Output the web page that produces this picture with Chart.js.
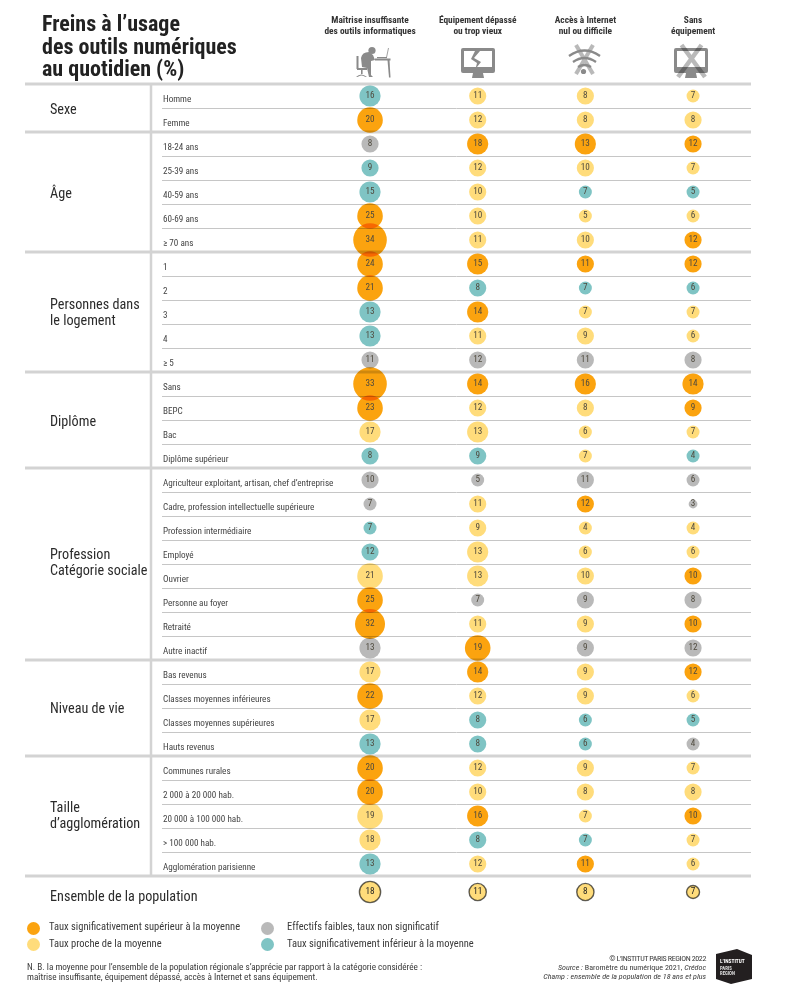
<!DOCTYPE html>
<html lang="fr">
<head>
<meta charset="utf-8">
<title>Freins à l'usage des outils numériques</title>
<script src="https://cdn.jsdelivr.net/npm/chart.js@4/dist/chart.umd.min.js"></script>
<style>
  html, body { margin: 0; padding: 0; background: #fff; }
  #page { position: relative; width: 804px; height: 993px; overflow: hidden;
          font-family: "Roboto Condensed", "Liberation Sans", sans-serif; color: #2b2b2b; }
  #page > * { position: absolute; }
  canvas { left: 0; top: 0; }
  .title { left: 42px; top: 13px; font-size: 22px; line-height: 22.6px; font-weight: bold; color: #222; }
  .group { left: 50px; font-size: 14.2px; line-height: 16px; color: #2b2b2b; }
  .dot { width: 13px; height: 13px; border-radius: 50%; }
  .leg { font-size: 10.5px; line-height: 12px; color: #3a3a3a; white-space: nowrap; }
  .note { left: 27px; top: 962px; font-size: 9.2px; line-height: 10.3px; color: #3a3a3a; white-space: nowrap; }
  .credit { right: 98px; top: 953.5px; text-align: right; font-size: 8.05px; line-height: 9.4px; color: #3a3a3a; white-space: nowrap; }
  .credit span { letter-spacing: -0.4px; }
  .logo { left: 716px; top: 949px; }
  .icon { left: 0; top: 0; }
</style>
</head>
<body>
<div id="page">
  <canvas id="chart" width="804" height="993"></canvas>

  <div class="title">Freins à l’usage<br>des outils numériques<br>au quotidien (%)</div>

  <div class="group" style="top:101px">Sexe</div>
  <div class="group" style="top:185px">Âge</div>
  <div class="group" style="top:296px">Personnes dans<br>le logement</div>
  <div class="group" style="top:413px">Diplôme</div>
  <div class="group" style="top:546px">Profession<br>Catégorie sociale</div>
  <div class="group" style="top:700px">Niveau de vie</div>
  <div class="group" style="top:799px">Taille<br>d’agglomération</div>
  <div class="group" style="top:888px">Ensemble de la population</div>

  <div class="dot" style="left:27px;top:922px;background:#FBA30F"></div>
  <div class="leg" style="left:49px;top:921px">Taux significativement supérieur à la moyenne</div>
  <div class="dot" style="left:27px;top:938px;background:#FFDC7B"></div>
  <div class="leg" style="left:49px;top:938px">Taux proche de la moyenne</div>
  <div class="dot" style="left:261px;top:922px;background:#B9B9B9"></div>
  <div class="leg" style="left:287px;top:921px">Effectifs faibles, taux non significatif</div>
  <div class="dot" style="left:261px;top:938px;background:#7FC4C4"></div>
  <div class="leg" style="left:287px;top:938px">Taux significativement inférieur à la moyenne</div>

  <div class="note">N. B. la moyenne pour l’ensemble de la population régionale s’apprécie par rapport à la catégorie considérée :<br>maîtrise insuffisante, équipement dépassé, accès à Internet et sans équipement.</div>
  <div class="credit"><span>© L’INSTITUT PARIS REGION 2022</span><br><i>Source :</i> Baromètre du numérique 2021, <i>Crédoc</i><br><i>Champ : ensemble de la population de 18 ans et plus</i></div>

  <svg class="logo" width="37" height="36" viewBox="0 0 37 36">
    <polygon points="0,5 21,0 36,6 36,30 15,35 0,30" fill="#231f20"/>
    <text x="4" y="14" font-size="5.4" font-weight="bold" fill="#fff">L’INSTITUT</text>
    <text x="4" y="20.5" font-size="4.8" font-weight="bold" fill="#ddd">PARIS</text>
    <text x="4" y="25.5" font-size="4.8" font-weight="bold" fill="#ddd">REGION</text>
  </svg>

  <svg class="icon" width="804" height="84" viewBox="0 0 804 84">
    <!-- maitrise insuffisante -->
    <g fill="#8a8a8a" stroke="none">
      <circle cx="372" cy="50.5" r="3.6"/>
      <path d="M361 58 q1 -6 8 -6 l4 3 l2 5 l-4 1 l0 14 l2 2 l-4 0 l-2 -9 l-5 -1 z"/>
      <rect x="356.5" y="56" width="2" height="13"/>
      <rect x="357" y="68" width="10" height="2"/>
      <rect x="361" y="70" width="1.6" height="4"/>
      <path d="M356 77 q5 -5 11 0 l-1.5 0 q-4 -3 -8 0 z"/>
      <rect x="375" y="58.5" width="15.5" height="2"/>
      <polygon points="387.5,60 389.5,60 390.5,77.5 389,77.5"/>
      <rect x="377" y="57" width="10" height="1.2"/>
    </g>
    <line x1="386.5" y1="57.5" x2="388.5" y2="48" stroke="#8a8a8a" stroke-width="0.8"/>

    <!-- equipement depasse -->
    <path fill-rule="evenodd" fill="#8a8a8a" d="M463 48 h30 a2 2 0 0 1 2 2 v21 a2 2 0 0 1 -2 2 h-30 a2 2 0 0 1 -2 -2 v-21 a2 2 0 0 1 2 -2 z M464 51 v16 h28 v-16 z"/>
    <polygon fill="#8a8a8a" points="473,73 483,73 484,78 472,78"/>
    <polygon fill="#8a8a8a" points="475,51 480,51 474,58 481,62 477,67 476,67 477,63 471,59"/>

    <!-- acces internet -->
    <g fill="none" stroke="#b9b9b9" stroke-width="4">
      <line x1="576" y1="45" x2="593" y2="74"/>
      <line x1="593" y1="45" x2="576" y2="74"/>
    </g>
    <g fill="none" stroke="#8a8a8a" stroke-width="2.3">
      <path d="M569 56 q15.5 -11 31 0"/>
      <path d="M573 62 q11.5 -8 23 0"/>
      <path d="M578 67 q6.5 -4 13 0"/>
    </g>
    <circle cx="583.5" cy="71.5" r="2.6" fill="#8a8a8a"/>

    <!-- sans equipement -->
    <path fill-rule="evenodd" fill="#8a8a8a" d="M676 48 h30 a2 2 0 0 1 2 2 v21 a2 2 0 0 1 -2 2 h-30 a2 2 0 0 1 -2 -2 v-21 a2 2 0 0 1 2 -2 z M677 51 v16 h28 v-16 z"/>
    <polygon fill="#8a8a8a" points="686,73 696,73 697,78 685,78"/>
    <g fill="none" stroke="#b9b9b9" stroke-width="4.5" style="mix-blend-mode:multiply">
      <line x1="681.5" y1="45" x2="705" y2="77"/>
      <line x1="701.5" y1="45" x2="678" y2="77"/>
    </g>
  </svg>
</div>

<script>
// Libellés des lignes et colonnes
const columnLabels = [
  ['Maîtrise insuffisante', 'des outils informatiques'],
  ['Équipement dépassé', 'ou trop vieux'],
  ['Accès à Internet', 'nul ou difficile'],
  ['Sans', 'équipement']
];
const rowLabels = [
  'Homme', 'Femme',
  '18-24 ans', '25-39 ans', '40-59 ans', '60-69 ans', '≥ 70 ans',
  '1', '2', '3', '4', '≥ 5',
  'Sans', 'BEPC', 'Bac', 'Diplôme supérieur',
  'Agriculteur exploitant, artisan, chef d’entreprise', 'Cadre, profession intellectuelle supérieure',
  'Profession intermédiaire', 'Employé', 'Ouvrier', 'Personne au foyer', 'Retraité', 'Autre inactif',
  'Bas revenus', 'Classes moyennes inférieures', 'Classes moyennes supérieures', 'Hauts revenus',
  'Communes rurales', '2 000 à 20 000 hab.', '20 000 à 100 000 hab.', '> 100 000 hab.', 'Agglomération parisienne'
];
const groupSizes = [2, 5, 5, 4, 8, 4, 5];

// Valeurs (%) par colonne
const maitrise   = [16, 20,  8, 9, 15, 25, 34,  24, 21, 13, 13, 11,  33, 23, 17, 8,  10, 7, 7, 12, 21, 25, 32, 13,  17, 22, 17, 13,  20, 20, 19, 18, 13];
const equipement = [11, 12,  18, 12, 10, 10, 11,  15, 8, 14, 11, 12,  14, 12, 13, 9,  5, 11, 9, 13, 13, 7, 11, 19,  14, 12, 8, 8,  12, 10, 16, 8, 12];
const acces      = [8, 8,  13, 10, 7, 5, 10,  11, 7, 7, 9, 11,  16, 8, 6, 7,  11, 12, 4, 6, 10, 9, 9, 9,  9, 9, 6, 6,  9, 8, 7, 7, 11];
const sansEquip  = [7, 8,  12, 7, 5, 6, 12,  12, 6, 7, 6, 8,  14, 9, 7, 4,  6, 3, 4, 6, 10, 8, 10, 12,  12, 6, 5, 4,  7, 8, 10, 7, 6];
const ensemble   = [18, 11, 8, 7];

// Niveau par colonne : S supérieur, P proche, F faible, I inférieur
const maitriseNiv   = 'I S  F I I S S  S S I I F  S S P I  F F I I P S S F  P S P I  S S P P I'.replace(/ /g, '');
const equipementNiv = 'P P  S P P P P  S I S P F  S P P I  F P P P P F P S  S P I I  P P S I P'.replace(/ /g, '');
const accesNiv      = 'P P  S P I P P  S I P P F  S P P P  F S P P P F P F  P P I I  P P P I S'.replace(/ /g, '');
const sansEquipNiv  = 'P P  S P I P S  S I P P F  S S P I  F F P P S F S F  S P I F  P P S P P'.replace(/ /g, '');

const levelColors = { S: '#FBA30F', P: '#FFDC7B', F: '#B9B9B9', I: '#7FC4C4' };
const ENSEMBLE_ROW = 33.667;
const FONT = '"Roboto Condensed", "Liberation Sans", sans-serif';

// Le diamètre des bulles suit des classes de valeurs
function radiusFor(v) {
  if (v <= 3) return 4.4;
  if (v <= 7) return 6.5;
  if (v <= 12) return 8.6;
  if (v <= 18) return 10.6;
  if (v <= 25) return 12.8;
  if (v <= 32) return 15;
  return 16.8;
}

function columnDataset(values, levels, col) {
  return {
    data: values.map((v, i) => ({ x: col, y: i + 0.5, r: radiusFor(v), v })),
    backgroundColor: values.map((v, i) => levelColors[levels[i]]),
    borderWidth: 0,
    clip: false
  };
}

const ensembleDataset = {
  data: ensemble.map((v, col) => ({ x: col, y: ENSEMBLE_ROW, r: radiusFor(v), v })),
  backgroundColor: '#FFDC7B',
  borderColor: '#5f5f5f',
  borderWidth: 1.4,
  clip: false
};

// Filets du tableau, sous les bulles
const rulesPlugin = {
  id: 'rules',
  beforeDatasetsDraw(chart) {
    const { ctx, scales: { y } } = chart;
    const thick = new Set([0]);
    groupSizes.reduce((sum, n) => { thick.add(sum + n); return sum + n; }, 0);
    ctx.save();
    for (let i = 0; i <= rowLabels.length; i++) {
      const py = Math.round(y.getPixelForValue(i));
      ctx.beginPath();
      if (thick.has(i)) {
        ctx.strokeStyle = '#d3d3d3';
        ctx.lineWidth = 3;
        ctx.moveTo(25, py);
      } else {
        ctx.strokeStyle = '#c6c6c6';
        ctx.lineWidth = 1;
        ctx.moveTo(162, py + 0.5);
      }
      ctx.lineTo(751, thick.has(i) ? py : py + 0.5);
      ctx.stroke();
    }
    ctx.beginPath();
    ctx.strokeStyle = '#d3d3d3';
    ctx.lineWidth = 2.5;
    ctx.moveTo(151, y.getPixelForValue(0));
    ctx.lineTo(151, y.getPixelForValue(rowLabels.length));
    ctx.stroke();
    ctx.restore();
    // les chevauchements de bulles foncent comme dans l'original
    ctx.globalCompositeOperation = 'multiply';
  },
  afterDatasetsDraw(chart) {
    const { ctx } = chart;
    ctx.globalCompositeOperation = 'source-over';
    ctx.save();
    ctx.font = '9.2px ' + FONT;
    ctx.textAlign = 'center';
    ctx.textBaseline = 'middle';
    chart.data.datasets.forEach((ds, d) => {
      ctx.fillStyle = ds.borderColor ? '#222' : '#4f4a3e';
      chart.getDatasetMeta(d).data.forEach((pt, i) => {
        ctx.fillText(ds.data[i].v, pt.x, pt.y - 0.5);
      });
    });
    ctx.restore();
  }
};

new Chart(document.getElementById('chart'), {
  type: 'bubble',
  data: {
    datasets: [
      columnDataset(maitrise, maitriseNiv, 0),
      columnDataset(equipement, equipementNiv, 1),
      columnDataset(acces, accesNiv, 2),
      columnDataset(sansEquip, sansEquipNiv, 3),
      ensembleDataset
    ]
  },
  options: {
    responsive: false,
    animation: false,
    events: [],
    layout: { padding: { left: 162, top: 0, right: 54, bottom: 85 } },
    plugins: { legend: { display: false }, tooltip: { enabled: false } },
    scales: {
      x: {
        type: 'linear',
        position: 'top',
        min: -1.932,
        max: 3.529,
        border: { display: false },
        grid: { display: false, drawTicks: false },
        afterFit(scale) { scale.height = 84; },
        afterBuildTicks(scale) { scale.ticks = columnLabels.map((_, i) => ({ value: i })); },
        ticks: {
          autoSkip: false,
          maxRotation: 0,
          padding: 47.5,
          color: '#333',
          font: { family: FONT, size: 9.4, weight: 'bold', lineHeight: 1.1 },
          callback: (value, i) => columnLabels[i]
        }
      },
      y: {
        type: 'linear',
        reverse: true,
        min: 0,
        max: 34.333,
        border: { display: false },
        grid: { display: false, drawTicks: false },
        afterFit(scale) { scale.width = 0; },
        // libellés un peu sous le centre de la ligne
        afterBuildTicks(scale) { scale.ticks = rowLabels.map((_, i) => ({ value: i + 0.67 })); },
        ticks: {
          autoSkip: false,
          mirror: true,
          padding: 1,
          color: '#444',
          font: { family: FONT, size: 9.15 },
          callback: (value, i) => rowLabels[i]
        }
      }
    }
  },
  plugins: [rulesPlugin]
});
</script>
</body>
</html>
